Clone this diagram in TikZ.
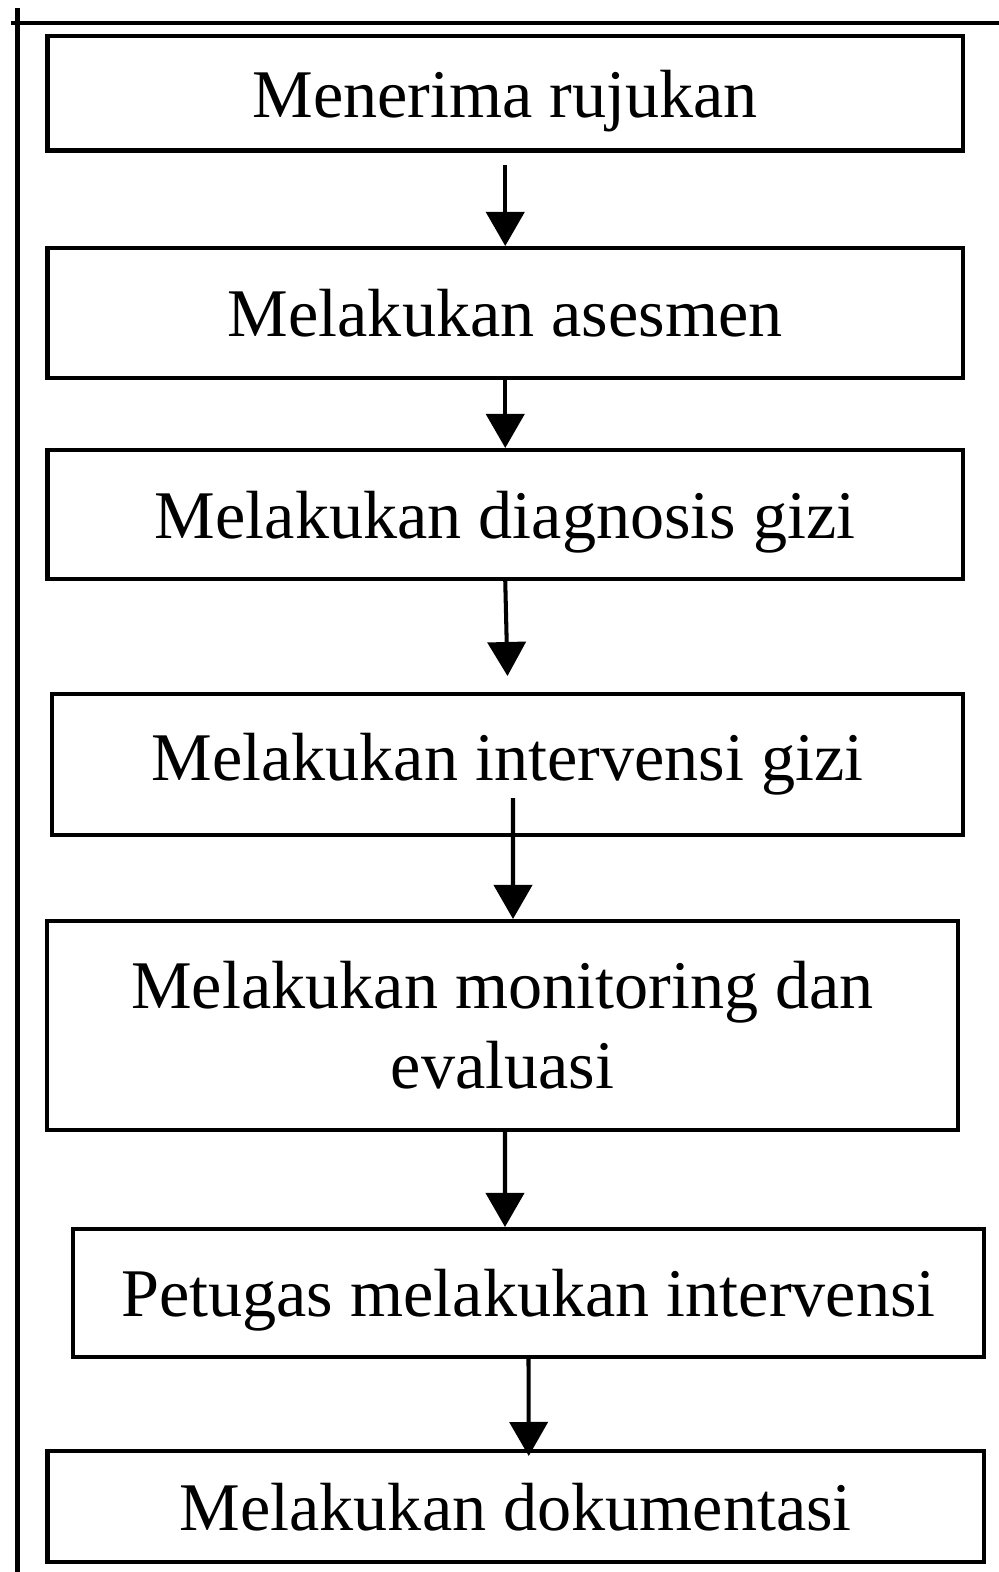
\documentclass[tikz,border=0pt]{standalone}
\usepackage{fontspec}
\setmainfont{Liberation Serif}
\usetikzlibrary{arrows.meta}

\begin{document}
\begin{tikzpicture}[
    box/.style={draw, line width=1.15pt, inner sep=0pt,
                font=\fontsize{19.4}{22.8}\selectfont},
    oneline/.style={text height=17.5pt, text depth=3.9pt},
    arr/.style={line width=1.15pt, -{Triangle[length=3.4mm,width=3.8mm]}}]
    \useasboundingbox (0,0) rectangle (9.99,-15.72);

    % frame lines at the top and the left
    \draw[line width=1.4pt] (0.175,-0.08) -- (0.175,-15.72);
    \draw[line width=1.2pt] (0.11,-0.23) -- (9.99,-0.23);

    \node[box, oneline, minimum width=9.155cm, minimum height=1.145cm] (terima)      at (5.0525,-0.9325) {Menerima rujukan};
    \node[box, oneline, minimum width=9.155cm, minimum height=1.30cm]  (asesmen)     at (5.0525,-3.13)   {Melakukan asesmen};
    \node[box, oneline, minimum width=9.155cm, minimum height=1.29cm]  (diagnosis)   at (5.0525,-5.145)  {Melakukan diagnosis gizi};
    \node[box, minimum width=9.11cm,  minimum height=1.41cm]  (intervensi)  at (5.075,-7.645)   {Melakukan intervensi gizi};
    \node[box, align=center, minimum width=9.11cm,  minimum height=2.09cm]  (monitoring)  at (5.025,-10.255)  {Melakukan monitoring dan\\evaluasi};
    \node[box, oneline, minimum width=9.11cm,  minimum height=1.28cm]  (petugas)     at (5.285,-12.93)   {Petugas melakukan intervensi};
    \node[box, oneline, minimum width=9.365cm, minimum height=1.11cm]  (dokumentasi) at (5.1575,-15.065) {Melakukan dokumentasi};

    % the arrows do not all sit on the box centres
    \draw[arr] ([yshift=-1.25mm]terima.south) -- (asesmen.north);
    \draw[arr] (asesmen.south) -- (diagnosis.north);
    \draw[arr] (diagnosis.south) -- ([yshift=1.6mm]intervensi.north);
    \draw[arr] ([xshift=0.55mm,yshift=3.9mm]intervensi.south) -- ([xshift=1.05mm]monitoring.north);
    \draw[arr] ([xshift=0.25mm]monitoring.south) -- ([xshift=-2.35mm]petugas.north);
    \draw[arr] (petugas.south) -- ([xshift=1.3mm,yshift=-0.7mm]dokumentasi.north);
\end{tikzpicture}
\end{document}
